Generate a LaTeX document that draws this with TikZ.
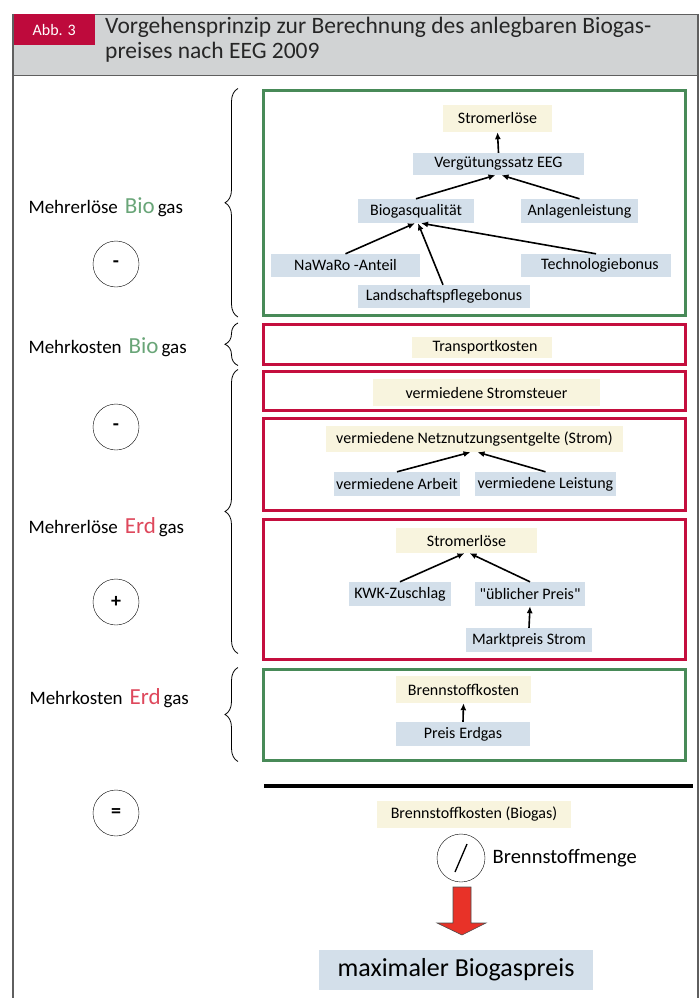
\documentclass[tikz,border=0pt]{standalone}
\usepackage{fontspec}
\setmainfont{Carlito}[Ligatures=TeXOff]
\usepackage{xcolor}
\usetikzlibrary{arrows.meta,positioning,calc,decorations.pathreplacing}
\definecolor{framegray}{RGB}{95,95,95}
\definecolor{headgray}{RGB}{209,211,212}
\definecolor{abbred}{RGB}{190,10,60}
\definecolor{boxgreen}{RGB}{72,138,88}
\definecolor{boxred}{RGB}{196,14,62}
\definecolor{creamfill}{RGB}{248,244,222}
\definecolor{bluefill}{RGB}{211,223,234}
\definecolor{biogreen}{RGB}{105,165,120}
\definecolor{erdred}{RGB}{222,72,92}
\definecolor{arrowred}{RGB}{232,50,40}
\newcommand{\gaslabel}[3]{#1\hspace{7pt}{\fontsize{23}{23}\selectfont\color{#2}#3}\hspace{3pt}gas}

\begin{document}
\begin{tikzpicture}[x=1pt,y=-1pt,>={Latex[length=7pt,width=6pt]},every node/.style={font=\fontsize{16}{18}\selectfont}]
\tikzset{
  ergebnis/.style={fill=creamfill,inner sep=2pt,minimum height=25pt},
  faktor/.style={fill=bluefill,inner sep=2pt,minimum height=24pt},
  gruenbox/.style={draw=boxgreen,line width=3pt,minimum width=422pt},
  rotbox/.style={draw=boxred,line width=3pt,minimum width=422pt},
  opkreis/.style={draw,circle,minimum size=46pt,inner sep=0pt,font=\fontsize{20}{20}\selectfont\bfseries},
  seite/.style={anchor=west,font=\fontsize{19}{21}\selectfont},
  klammer/.style={decorate,decoration={brace,amplitude=13pt},line width=0.8pt},
  pfeil/.style={->,line width=1.6pt}
}
\useasboundingbox (0,0) rectangle (700,998);
% header
\node[fill=headgray,draw=framegray,line width=1pt,minimum width=684pt,minimum height=61pt,anchor=north west,inner sep=0pt] (kopf) at (13,14) {};
\node[fill=abbred,text=white,minimum width=82pt,minimum height=31pt,anchor=north west,inner sep=0pt] (abb) at (13,14) {Abb. 3};
\node[anchor=north west,align=left,inner sep=0pt,font=\fontsize{23.5}{25}\selectfont,text=black!85] (titel) at (105,17) {Vorgehensprinzip zur Berechnung des anlegbaren Biogas-\\preises nach EEG 2009};
\draw[framegray,line width=1.2pt] (kopf.north west) -- ++(0,984);
\draw[framegray,line width=1.2pt] (kopf.north east) -- ++(0,984);

% boxes
\node[gruenbox,minimum height=225.5pt] (boxBio) at (474.5,202.75) {};
\node[rotbox,minimum height=39.5pt] (boxTrans) at (474.5,344.25) {};
\node[rotbox,minimum height=39pt] (boxSteuer) at (474.5,390.5) {};
\node[rotbox,minimum height=92pt] (boxNetz) at (474.5,464) {};
\node[rotbox,minimum height=139.5pt] (boxStrom) at (474.5,589.25) {};
\node[gruenbox,minimum height=91pt] (boxErd) at (474.5,714.5) {};

% Mehrerloese Biogas
\node[ergebnis,minimum width=109pt,minimum height=27pt] (strom1) at (497.5,118.5) {Stromerlöse};
\node[faktor,minimum width=171pt,minimum height=22pt] (verg) at (498.5,164) {Vergütungssatz EEG};
\node[faktor,minimum width=116pt] (bioq) at (416,211) {Biogasqualität};
\node[faktor,minimum width=117pt] (anlage) at (579.5,211) {Anlagenleistung};
\node[faktor,minimum width=149pt,minimum height=23pt] (nawaro) at (345.5,265.5) {NaWaRo -Anteil};
\node[faktor,minimum width=150pt,minimum height=23pt] (techno) at (596,265.5) {\hspace{8pt}Technologiebonus};
\node[faktor,minimum width=172pt,minimum height=23pt] (landsch) at (444,296.5) {Landschaftspflegebonus};
\draw[pfeil] (verg.north) -- (strom1.south);
\draw[pfeil] (bioq.north) -- ([xshift=-3pt]verg.south);
\draw[pfeil] (anlage.north) -- ([xshift=3pt]verg.south);
\draw[pfeil] (nawaro.north) -- ([xshift=-1pt]bioq.south);
\draw[pfeil] ([xshift=-1pt]landsch.north) -- ([xshift=2pt]bioq.south);
\draw[pfeil] (techno.north) -- ([xshift=5pt]bioq.south);

% Mehrkosten Biogas
\node[ergebnis,minimum width=140pt,minimum height=21pt] (transport) at (482,347.5) {\hspace{6pt}Transportkosten};

% Mehrerloese Erdgas
\node[ergebnis,minimum width=227pt,minimum height=27pt] (steuer) at (486.5,392.5) {vermiedene Stromsteuer};
\node[ergebnis,minimum width=297pt,minimum height=26pt] (netzentgelt) at (474.5,439) {vermiedene Netznutzungsentgelte (Strom)};
\node[faktor,minimum width=126pt] (arbeit) at (397,484) {vermiedene Arbeit};
\node[faktor,minimum width=141pt] (leistung) at (545.5,484) {vermiedene Leistung};
\draw[pfeil] (arbeit.north) -- ([xshift=-4pt]netzentgelt.south);
\draw[pfeil] (leistung.north) -- ([xshift=3pt]netzentgelt.south);
\node[ergebnis,minimum width=141pt] (strom2) at (466.5,540.5) {Stromerlöse};
\node[faktor,minimum width=102pt] (kwk) at (400,594) {KWK-Zuschlag};
\node[faktor,minimum width=110pt] (ueblich) at (530,594) {"üblicher Preis"};
\node[faktor,minimum width=126pt] (markt) at (529,640) {Marktpreis Strom};
\draw[pfeil] (kwk.north) -- ([xshift=-2pt]strom2.south);
\draw[pfeil] (ueblich.north) -- ([xshift=3pt]strom2.south);
\draw[pfeil] (markt.north) -- (ueblich.south);

% Mehrkosten Erdgas
\node[ergebnis,minimum width=135pt,minimum height=27pt] (brenn) at (463.5,689.5) {Brennstoffkosten};
\node[faktor,minimum width=134pt] (preiserd) at (463,734) {Preis\hspace{4pt}Erdgas};
\draw[pfeil] (preiserd.north) -- (brenn.south);

% linke Spalte
\node[seite] (lblBioErl) at (25,207) {\gaslabel{Mehrerlöse}{biogreen}{Bio}};
\node[seite] (lblBioKost) at (25,347) {\gaslabel{Mehrkosten}{biogreen}{Bio}};
\node[seite] (lblErdErl) at (25,527) {\gaslabel{Mehrerlöse}{erdred}{Erd}};
\node[seite] (lblErdKost) at (26,698) {\gaslabel{Mehrkosten}{erdred}{Erd}};
\node[opkreis] (minus1) at (116,264) {-};
\node[opkreis] (minus2) at (116,427) {-};
\node[opkreis] (plus) at (116,602) {+};
\node[opkreis] (gleich) at (116,813) {=};
\draw[klammer] ([xshift=-24pt]boxBio.south west) -- ([xshift=-24pt]boxBio.north west);
\draw[klammer] ([xshift=-24pt]boxTrans.south west) -- ([xshift=-24pt]boxTrans.north west);
\draw[klammer] ([xshift=-24pt,yshift=7pt]boxStrom.south west) -- ([xshift=-24pt]boxSteuer.north west);
\draw[klammer] ([xshift=-24pt]boxErd.south west) -- ([xshift=-24pt]boxErd.north west);

% Ergebnis
\draw[line width=4pt] (264,786) -- (693,786);
\node[ergebnis,minimum width=194pt,minimum height=27pt,font=\fontsize{16}{17}\selectfont] (brennbio) at (474,814.5) {Brennstoffkosten (Biogas)};
\node[opkreis,minimum size=48pt] (teil) at (461,858) {};
\draw[line width=1.3pt] ($(teil.center)+(-6,14)$) -- ($(teil.center)+(6,-14)$);
\node[right=4pt of teil,font=\fontsize{20.5}{22}\selectfont] (menge) {Brennstoffmenge};
\draw[black!70,fill=arrowred,line width=0.6pt] (453,887) -- (471,887) -- (471,923) -- (486,923) -- (462,935) -- (437,923) -- (453,923) -- cycle;
\node[fill=bluefill,minimum width=274pt,minimum height=40pt,font=\fontsize{26}{27}\selectfont] (maxpreis) at (456,970) {maximaler Biogaspreis};
\end{tikzpicture}
\end{document}
